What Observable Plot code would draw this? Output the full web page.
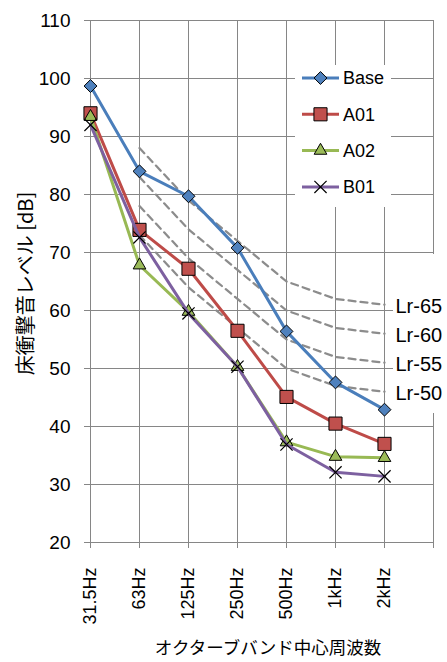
<!DOCTYPE html>
<html><head><meta charset="utf-8">
<script src="https://cdn.jsdelivr.net/npm/d3@7"></script>
<script src="https://cdn.jsdelivr.net/npm/@observablehq/plot@0.6"></script>
<style>html,body{margin:0;padding:0;background:#fff;}svg{display:block;}</style>
</head><body><div id="chart"></div>
<script>
// ---- data ----
const freqs = ["31.5Hz", "63Hz", "125Hz", "250Hz", "500Hz", "1kHz", "2kHz"];
const seriesNames = ["Base", "A01", "A02", "B01"];
const base = [98.7, 84.0, 79.7, 70.8, 56.4, 47.6, 42.9];
const a01  = [94.0, 73.9, 67.2, 56.5, 45.1, 40.5, 37.0];
const a02  = [93.4, 67.8, 59.8, 50.3, 37.3, 34.8, 34.6];
const b01  = [92.0, 72.6, 59.5, 50.3, 36.9, 32.1, 31.4];
const lrNames = ["Lr-65", "Lr-60", "Lr-55", "Lr-50"];
const lr65 = [null, 88, 79, 72, 65, 62, 61];
const lr60 = [null, 83, 74, 67, 60, 57, 56];
const lr55 = [null, 78, 69, 62, 55, 52, 51];
const lr50 = [null, 73, 64, 57, 50, 47, 46];
const yTicks = [20, 30, 40, 50, 60, 70, 80, 90, 100, 110];

const seriesValues = [base, a01, a02, b01];
const lrValues = [lr65, lr60, lr55, lr50];
const colorsLine = ["#4A7EBB", "#BE4B48", "#98B954", "#7D60A0"];
const colorsFill = ["#4F81BD", "#C0504D", "#9BBB59", "#8064A2"];
const symbols = ["diamond2", "square", "triangle", "times"];
const symR = [5.8, 7.4, 4.7, 5.6];

const rows = seriesNames.map((s, k) => seriesValues[k].map((v, i) => ({s, k, i, v})));
const lrRows = lrNames.flatMap((n, k) => lrValues[k].map((v, i) => ({n, i, v})).filter(d => d.v != null));
const lrEnds = lrNames.map((n, k) => ({n, i: 6, v: lrValues[k][6]}));

const FONT = "'Liberation Sans', Arial, 'Noto Sans CJK JP', sans-serif";
const JFONT = "'Noto Sans CJK JP', 'Liberation Sans', sans-serif";

// white boxes (legend and Lr label area)
function boxes(index, scales, values, dims) {
  const g = d3.create("svg:g");
  g.append("rect").attr("x", 393).attr("y", 254).attr("width", 54).attr("height", 159).attr("fill", "white");
  g.append("rect").attr("x", 295).attr("y", 65).attr("width", 96).attr("height", 142).attr("fill", "white");
  return g.node();
}
function legend(index, scales, values, dims) {
  const g = d3.create("svg:g");
  const symMap = {diamond2: d3.symbolDiamond2, square: d3.symbolSquare, triangle: d3.symbolTriangle, times: d3.symbolTimes};
  seriesNames.forEach((s, k) => {
    const y = 78 + k * 36.3;
    g.append("line").attr("x1", 302).attr("x2", 339).attr("y1", y).attr("y2", y)
      .attr("stroke", colorsLine[k]).attr("stroke-width", 3);
    const r = symR[k];
    const p = g.append("path").attr("transform", `translate(320.5,${y})`)
      .attr("d", d3.symbol(symMap[symbols[k]], r * r * Math.PI)());
    if (symbols[k] === "times") p.attr("fill", "none").attr("stroke", "black").attr("stroke-width", 1.2);
    else p.attr("fill", colorsFill[k]).attr("stroke", "black").attr("stroke-width", 1);
    g.append("text").attr("x", 343).attr("y", y).attr("dy", "0.36em")
      .attr("text-anchor", "start")
      .attr("font-size", 18).attr("font-family", FONT).attr("fill", "black").text(s);
  });
  return g.node();
}

const marks = [
  Plot.gridY(yTicks, {stroke: "#868686", strokeOpacity: 1, strokeWidth: 1}),
  Plot.gridX(d3.range(8), {stroke: "#868686", strokeOpacity: 1, strokeWidth: 1}),
  boxes,
  Plot.line(lrRows, {x: "i", y: "v", z: "n", stroke: "#8C8C8C", strokeWidth: 2.25, strokeDasharray: "7,5"}),
];
rows.forEach((r, k) => {
  marks.push(Plot.line(r, {x: "i", y: "v", stroke: colorsLine[k], strokeWidth: 3}));
  if (symbols[k] === "times") {
    marks.push(Plot.dot(r, {x: "i", y: "v", symbol: "times", r: symR[k], stroke: "black", strokeWidth: 1.2, fill: "none"}));
  } else {
    marks.push(Plot.dot(r, {x: "i", y: "v", symbol: symbols[k], r: symR[k], fill: colorsFill[k], stroke: "black", strokeWidth: 1}));
  }
});
marks.push(
  Plot.text(lrEnds, {x: "i", y: "v", text: "n", dx: 11, dy: 2, textAnchor: "start", fontSize: 20, fill: "black", fontFamily: FONT}),
  legend,
  Plot.axisY(yTicks, {tickSize: 6, tickPadding: 14, stroke: "#868686", fontSize: 19, label: null, color: "black"}),
  Plot.axisX(d3.range(8), {tickSize: 6, tickPadding: 19, stroke: "#868686", tickRotate: -90, fontSize: 18,
    tickFormat: i => freqs[i] ?? "", label: null}),
  Plot.text(["床衝撃音レベル [dB]"], {frameAnchor: "left", dx: -64, dy: 2, rotate: -90, textAnchor: "middle", lineAnchor: "middle", fontSize: 20, fontFamily: JFONT, fill: "black"}),
  Plot.text(["オクターブバンド中心周波数"], {frameAnchor: "bottom", dy: 106, dx: 6, textAnchor: "middle", lineAnchor: "middle", fontSize: 17.5, fontFamily: JFONT, fill: "black"})
);

const chart = Plot.plot({
  width: 447,
  height: 662,
  marginLeft: 90,
  marginRight: 14,
  marginTop: 20,
  marginBottom: 120,
  style: {fontFamily: FONT, color: "black", background: "white", overflow: "visible"},
  x: {type: "linear", domain: [0, 7]},
  y: {domain: [20, 110]},
  marks
});
document.getElementById("chart").appendChild(chart);
</script>
</body></html>
